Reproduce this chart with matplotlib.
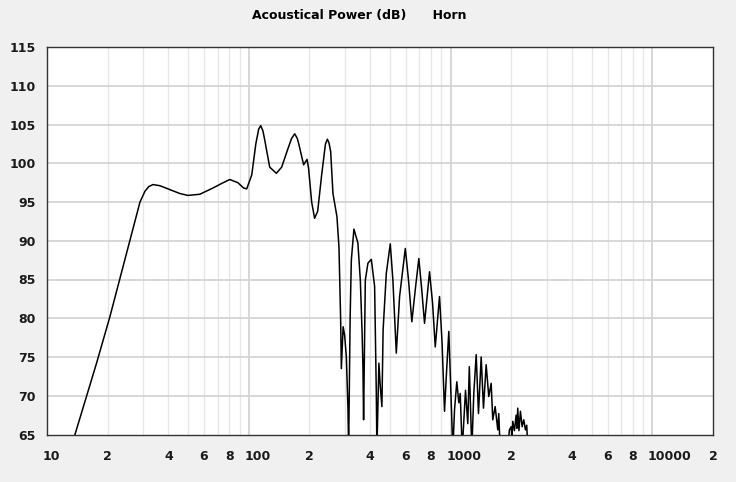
import matplotlib
matplotlib.use("Agg")
import matplotlib.pyplot as plt
import matplotlib.transforms as mtransforms
import numpy as np

# acoustical power response of the horn
freq = [12.5, 13.76, 17.6, 20.5, 28.9, 30.6, 32.0, 33.5, 36.3, 40.6,
        45.5, 49.9, 57.2, 66.4, 73.5, 80.5, 88.2, 94.4, 97.7, 103.5,
        108.4, 112, 114.6, 117.5, 120, 127, 137, 145.6, 156, 163,
        169, 174, 177, 187, 194.5, 198, 205, 212, 219.6, 229.8,
        240, 245.3, 250, 254.7, 261.4, 273.6,
        280, 285.4, 287.7, 293.6, 298.7, 304.6, 310.2, 312.6, 318, 322.4,
        332.1, 347.5, 357.3, 364.7, 368.1, 370.8, 378.2, 389.6, 405, 420.6,
        428.8, 431.7, 441.6, 448.7, 457, 463.4, 480.6, 502.9, 518.1, 538.6,
        559.2, 596.9, 619.4, 643.2, 670.9, 696.6, 718.4, 743.4, 787, 814.5,
        840.2, 882.1, 907.6, 933.9, 955.4, 980.8, 1008, 1027, 1047, 1074.6,
        1099.4, 1117, 1142.8, 1186.7, 1218, 1239.3, 1275, 1304.4, 1340.6, 1376,
        1419, 1456.7, 1502, 1547.5, 1590.5, 1619.7, 1664.7, 1714.9, 1734.6, 1762.6,
        1850.6, 1915, 1959, 1997.6, 2016, 2034.7, 2074.6, 2115, 2134.5, 2154,
        2183.6, 2221, 2265, 2306.6, 2351.7, 2386.6, 2419.8, 2758, 20000]
power = [61.0, 65.0, 74.2, 80.2, 95.0, 96.4, 97.0, 97.25, 97.1, 96.6,
         96.1, 95.85, 96.0, 96.8, 97.4, 97.9, 97.5, 96.8, 96.7, 98.5,
         102.5, 104.4, 104.85, 104.2, 103.0, 99.5, 98.7, 99.5, 101.8, 103.2,
         103.8, 103.2, 102.5, 99.8, 100.5, 99.3, 95.0, 92.9, 93.8, 98.5,
         102.5, 103.1, 102.6, 101.5, 96.1, 93.1,
         89.2, 79.8, 73.5, 78.9, 77.8, 75.0, 68.4, 63.0, 80.0, 87.5,
         91.5, 89.7, 84.9, 78.0, 73.7, 66.9, 84.9, 87.1, 87.6, 84.1,
         70.3, 63.0, 74.2, 71.2, 68.6, 78.5, 85.8, 89.6, 84.9, 75.5,
         82.8, 89.0, 84.9, 79.55, 84.0, 87.7, 84.0, 79.35, 86.0, 82.0,
         76.3, 82.8, 77.0, 68.0, 73.0, 78.3, 69.2, 63.0, 68.2, 71.8,
         69.1, 70.3, 63.0, 70.7, 66.4, 73.75, 63.0, 70.3, 75.3, 67.7,
         75.0, 68.4, 74.0, 69.9, 71.6, 66.9, 68.6, 65.6, 67.7, 63.0,
         62.0, 63.0, 65.6, 66.0, 64.5, 66.7, 65.5, 67.5, 65.8, 68.4,
         65.5, 68.0, 66.0, 66.9, 65.6, 66.2, 63.0, 50.0, 40.0]

xticks = [10, 20, 40, 60, 80, 100, 200, 400, 600, 800,
          1000, 2000, 4000, 6000, 8000, 10000, 20000]
xlabels = ["10", "2", "4", "6", "8", "100", "2", "4", "6", "8",
           "1000", "2", "4", "6", "8", "10000", "2"]
yticks = list(range(65, 116, 5))

fig = plt.figure(figsize=(7.36, 4.82), dpi=100, facecolor="#f0f0f0")
ax = fig.add_axes([47 / 736, 47.5 / 482, 666 / 736, 387.5 / 482])
ax.set_facecolor("white")

ax.set_xscale("log")
ax.set_xlim(10, 20000)
ax.set_ylim(65, 115)

# grid: light minor verticals, darker decades and horizontals
for dec in [10, 100, 1000, 10000]:
    for m in range(2, 10):
        if dec * m < 20000:
            ax.axvline(dec * m, color="#e6e6e6", lw=1.0, zorder=0)
for dec in [100, 1000, 10000]:
    ax.axvline(dec, color="#cfcfcf", lw=1.2, zorder=0)
for y in yticks[1:-1]:
    ax.axhline(y, color="#d4d4d4", lw=1.3, zorder=0)

ax.plot(freq, power, color="black", lw=1.1, zorder=3)

ax.set_xticks(xticks)
ax.set_xticklabels(xlabels)
ax.xaxis.set_minor_locator(matplotlib.ticker.NullLocator())
ax.set_yticks(yticks)
ax.tick_params(length=0, labelsize=9)
ax.tick_params(axis="x", pad=11)
ax.tick_params(axis="y", pad=8)
shift = mtransforms.ScaledTranslation(-4.3 / 100, 0, fig.dpi_scale_trans)
for lab in ax.get_xticklabels():
    lab.set_horizontalalignment("left")
    lab.set_transform(lab.get_transform() + shift)
for lab in ax.get_xticklabels() + ax.get_yticklabels():
    lab.set_fontweight("bold")
    lab.set_color("#1a1a1a")

for s in ax.spines.values():
    s.set_color("#333333")
    s.set_linewidth(1.0)

fig.text(359 / 736, 1 - 16 / 482, "Acoustical Power (dB)      Horn",
         ha="center", va="center", fontsize=9, fontweight="bold")

fig.savefig("out.png", dpi=100, facecolor=fig.get_facecolor())
